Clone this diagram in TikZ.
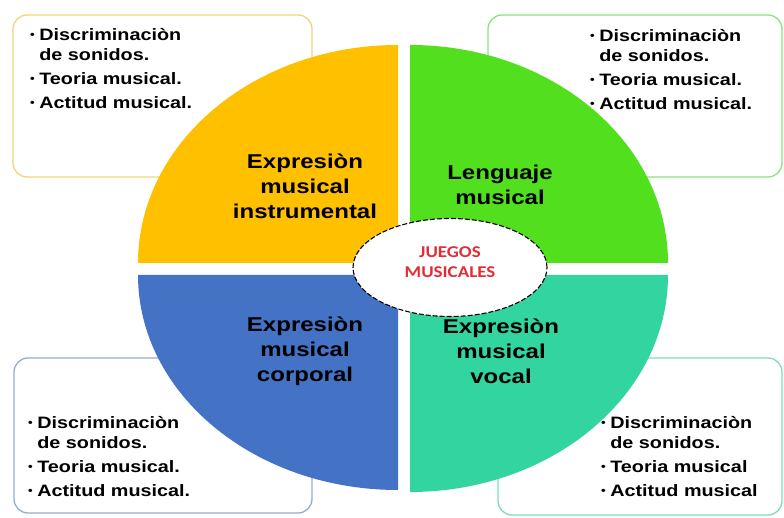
\documentclass[tikz,border=0pt]{standalone}
\usepackage{fontspec}
\newfontfamily\lfont{Liberation Sans}[FakeStretch=1.2]
\newfontfamily\cfont{Carlito}[FakeStretch=1.15]
\definecolor{qyellow}{HTML}{FFC000}
\definecolor{qgreen}{RGB}{82,224,30}
\definecolor{qblue}{HTML}{4472C4}
\definecolor{qteal}{RGB}{50,212,160}
\definecolor{byellow}{RGB}{242,212,122}
\definecolor{bgreen}{RGB}{140,224,128}
\definecolor{bblue}{RGB}{150,172,212}
\definecolor{bteal}{RGB}{125,220,190}
\definecolor{jred}{RGB}{226,45,55}
\newcommand{\bul}{\raisebox{1.8pt}{\fontsize{11}{11}\selectfont\textbullet}}
\tikzset{
  infobox/.style={rounded corners=14pt, line width=1.3pt, fill=white},
  listtxt/.style={inner sep=0pt, anchor=north west, font=\lfont\bfseries\fontsize{16.5}{20}\selectfont},
  headtxt/.style={inner sep=0pt, align=center, font=\lfont\bfseries\fontsize{20}{25}\selectfont},
}
\newcommand{\itemlist}[2]{\begin{tabular}{@{}l@{\hspace{4.5pt}}l@{}}\bul & Discriminaciòn\\ & de sonidos.\\[4pt] \bul & #1\\[4pt] \bul & #2\end{tabular}}
\begin{document}
\begin{tikzpicture}[x=1pt,y=1pt]
\useasboundingbox (0,0) rectangle (784,518);
\fill[white] (0,0) rectangle (784,518);
% boxes
\draw[infobox, draw=byellow] (13,503) rectangle (312,341);
\draw[infobox, draw=bgreen] (488,503) rectangle (782,341);
\draw[infobox, draw=bblue] (14,160) rectangle (312,5);
\draw[infobox, draw=bteal] (498,160) rectangle (782,3);
% box texts
\node[listtxt] (tltext) at (30,492) {\itemlist{Teoria musical.}{Actitud musical.}};
\node[listtxt] (trtext) at (590,491) {\itemlist{Teoria musical.}{Actitud musical.}};
\node[listtxt] (bltext) at (28,104) {\itemlist{Teoria musical.}{Actitud musical.}};
\node[listtxt] (brtext) at (601,104) {\itemlist{Teoria musical}{Actitud musical}};
% quadrants
\fill[qyellow] (398,255) -- (138,255) arc[start angle=180, end angle=90, x radius=260, y radius=218] -- cycle;
\fill[qgreen] (410,255) -- (410,473) arc[start angle=90, end angle=0, x radius=258, y radius=218] -- cycle;
\fill[qblue] (398,243) -- (138,243) arc[start angle=180, end angle=270, x radius=260, y radius=215] -- cycle;
\fill[qteal] (410,243) -- (668,243) arc[start angle=0, end angle=-90, x radius=258, y radius=217] -- cycle;
% headings
\node[headtxt] (hinst) at (305,332) {Expresiòn\\musical\\instrumental};
\node[headtxt] (hleng) at (500,333) {Lenguaje\\musical};
\node[headtxt] (hcorp) at (305,167) {Expresiòn\\musical\\corporal};
\node[headtxt] (hvoc) at (501,167) {Expresiòn\\musical\\vocal};
% center ellipse
\draw[fill=white, draw=black, line width=1.1pt, dash pattern=on 5pt off 2pt] (450,250.5) ellipse[x radius=97, y radius=49];
\node[inner sep=0pt, align=center, text=jred, font=\cfont\bfseries\fontsize{16.5}{20}\selectfont] (juegos) at (450,256) {JUEGOS\\MUSICALES};
\end{tikzpicture}
\end{document}
